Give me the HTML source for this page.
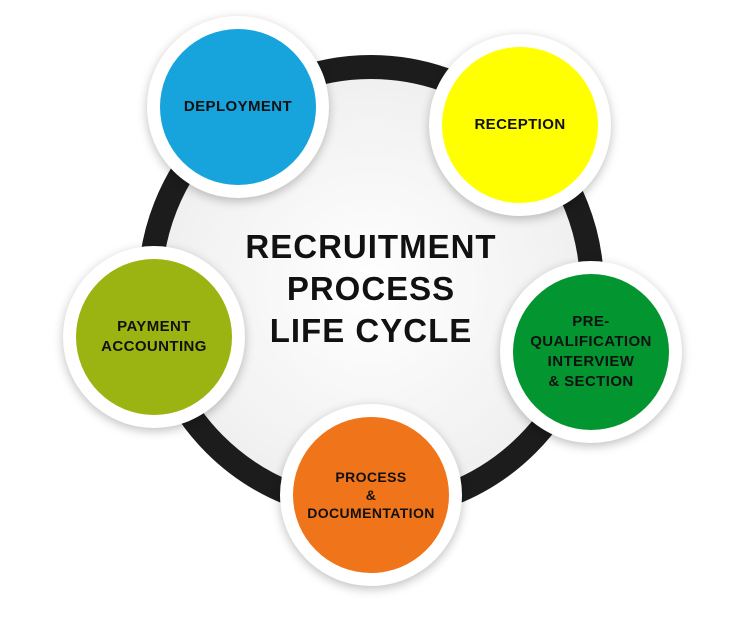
<!DOCTYPE html>
<html><head><meta charset="utf-8"><style>
html,body{margin:0;padding:0;background:#fff;}
body{width:730px;height:633px;position:relative;overflow:hidden;font-family:"Liberation Sans",sans-serif;}
.ring{position:absolute;left:138px;top:55px;width:466px;height:466px;border-radius:50%;box-sizing:border-box;border:24px solid #1c1c1c;background:radial-gradient(circle at 50% 50%,#ffffff 0%,#f0f0f0 70%,#e4e4e4 100%);}
.halo{position:absolute;width:182px;height:182px;border-radius:50%;background:#fff;box-shadow:0 3px 10px rgba(0,0,0,0.25);}
.c{position:absolute;left:13px;top:13px;width:156px;height:156px;border-radius:50%;display:flex;align-items:center;justify-content:center;text-align:center;font-weight:bold;font-size:15px;line-height:20px;color:#111;letter-spacing:0.4px;}
.title{position:absolute;left:190px;width:362px;top:226px;text-align:center;font-weight:bold;font-size:33px;line-height:42px;color:#111;letter-spacing:1px;}
</style></head><body>
<div class="ring"></div>
<div class="title">RECRUITMENT<br>PROCESS<br>LIFE CYCLE</div>
<div class="halo" style="left:147px;top:16px"><div class="c" style="background:#17a3dc">DEPLOYMENT</div></div>
<div class="halo" style="left:429px;top:34px"><div class="c" style="background:#ffff00">RECEPTION</div></div>
<div class="halo" style="left:63px;top:246px"><div class="c" style="background:#9bb412">PAYMENT<br>ACCOUNTING</div></div>
<div class="halo" style="left:500px;top:261px"><div class="c" style="background:#03952f">PRE-<br>QUALIFICATION<br>INTERVIEW<br>&amp; SECTION</div></div>
<div class="halo" style="left:280px;top:404px"><div class="c" style="background:#f07419;font-size:14px;line-height:18px">PROCESS<br>&amp;<br>DOCUMENTATION</div></div>
</body></html>
